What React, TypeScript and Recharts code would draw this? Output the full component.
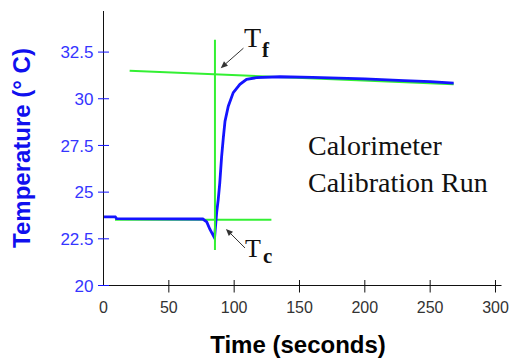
import React from 'react';
import { LineChart, Line, XAxis, YAxis, ReferenceLine } from 'recharts';

// ---- data ----
const runTimes = [0, 9, 10, 40, 76, 79, 81.5, 85, 86.6, 87.8, 89, 90.4, 91.7, 93, 95.5, 99.3, 104.4, 109.5, 117, 135, 160, 200, 230, 250, 268];
const runTemps = [23.68, 23.68, 23.58, 23.57, 23.56, 23.4, 23.0, 22.55, 23.9, 24.6, 25.5, 26.9, 27.9, 28.8, 29.6, 30.33, 30.77, 31.04, 31.13, 31.18, 31.15, 31.06, 30.97, 30.92, 30.84];

const finalFit = [{ t: 20, temp: 31.5 }, { t: 268, temp: 30.78 }];
const initialFit = [{ t: 8.8, temp: 23.52 }, { t: 128.5, temp: 23.52 }];
const mixTime = [{ t: 85.3, temp: 33.16 }, { t: 85.3, temp: 21.9 }];

const arrowTf = [{ x: 107.1, y: 32.71 }, { x: 89.7, y: 31.64 }];
const arrowTc = [{ x: 108.3, y: 22.01 }, { x: 93.7, y: 23.03 }];

const xTicks = [0, 50, 100, 150, 200, 250, 300];
const yTicks = [20, 22.5, 25, 27.5, 30, 32.5];

const data = runTimes.map((t, i) => ({ t, temp: runTemps[i] }));

const BLUE = '#1414ff';
const GREEN = '#33f033';

const YTick = (props: any) => {
  const { x, y, payload } = props;
  const ax = x + 10;
  return (
    <g>
      <line x1={ax - 5.5} x2={ax + 5.5} y1={y} y2={y} stroke={BLUE} strokeWidth={1} />
      <text x={x} y={y} dy="0.36em" textAnchor="end" fill="#3535ff" fontSize={17} fontFamily="Liberation Sans, Arial, sans-serif">
        {String(payload.value)}
      </text>
    </g>
  );
};

const XTick = (props: any) => {
  const { x, y, payload } = props;
  const ay = y - 16;
  return (
    <g>
      {payload.value !== 0 && <line x1={x} x2={x} y1={ay - 5.5} y2={ay + 7} stroke="#111" strokeWidth={1} />}
      <text x={x} y={y} dy="0.71em" textAnchor="middle" fill="#333" fontSize={16} fontFamily="Liberation Sans, Arial, sans-serif">
        {String(payload.value)}
      </text>
    </g>
  );
};

const Arrow = (props: any) => {
  const { x1, y1, x2, y2 } = props;
  const a = Math.atan2(y2 - y1, x2 - x1);
  const L = 7, W = 3;
  const bx = x2 - L * Math.cos(a), by = y2 - L * Math.sin(a);
  const p1 = `${bx + W * Math.sin(a)},${by - W * Math.cos(a)}`;
  const p2 = `${bx - W * Math.sin(a)},${by + W * Math.cos(a)}`;
  return (
    <g>
      <line x1={x1} y1={y1} x2={bx} y2={by} stroke="#333" strokeWidth={1} />
      <polygon points={`${x2},${y2} ${p1} ${p2}`} fill="#333" />
    </g>
  );
};

export default function App() {
  return (
    <div style={{ position: 'relative', width: 513, height: 358 }}>
      <style>{`body{margin:0}`}</style>
      <LineChart width={513} height={358} data={data} margin={{ top: 11, right: 11.5, left: 23.5, bottom: 42.5 }}>
        <XAxis
          type="number"
          dataKey="t"
          domain={[0, 304.6]}
          ticks={xTicks}
          allowDataOverflow
          axisLine={{ stroke: '#111' }}
          tickLine={false}
          tickSize={0}
          tickMargin={16}
          height={30}
          tick={<XTick />}
        />
        <YAxis
          type="number"
          domain={[20, 34.7]}
          ticks={yTicks}
          allowDataOverflow
          axisLine={{ stroke: '#111' }}
          tickLine={false}
          tickSize={0}
          tickMargin={10}
          width={80}
          tick={<YTick />}
        />
        <Line data={finalFit} dataKey="temp" stroke={GREEN} strokeWidth={2} dot={false} activeDot={false} isAnimationActive={false} />
        <Line data={initialFit} dataKey="temp" stroke={GREEN} strokeWidth={2} dot={false} activeDot={false} isAnimationActive={false} />
        <Line dataKey="temp" stroke={BLUE} strokeWidth={2.8} dot={false} activeDot={false} isAnimationActive={false} />
        <Line data={mixTime} dataKey="temp" stroke={GREEN} strokeWidth={2} dot={false} activeDot={false} isAnimationActive={false} />
        <ReferenceLine segment={arrowTf} shape={<Arrow />} ifOverflow="visible" />
        <ReferenceLine segment={arrowTc} shape={<Arrow />} ifOverflow="visible" />
      </LineChart>
      <svg width={513} height={358} style={{ position: 'absolute', left: 0, top: 0, pointerEvents: 'none' }}>
        <text transform="translate(30,148) rotate(-90)" textAnchor="middle" fill="#1010ee" fontSize={24} fontWeight="bold" fontFamily="Liberation Sans, Arial, sans-serif">
          Temperature (° C)
        </text>
        <text x={298} y={353} textAnchor="middle" fill="#000" fontSize={24} fontWeight="bold" fontFamily="Liberation Sans, Arial, sans-serif">
          Time (seconds)
        </text>
        <text x={244} y={47} fill="#111" fontSize={28} fontFamily="Liberation Serif, Times New Roman, serif">T</text>
        <text x={262} y={56.5} fill="#111" fontSize={21} fontWeight="bold" fontFamily="Liberation Serif, Times New Roman, serif">f</text>
        <text x={245} y={256.7} fill="#111" fontSize={26} fontFamily="Liberation Serif, Times New Roman, serif">T</text>
        <text x={263} y={263} fill="#111" fontSize={21} fontWeight="bold" fontFamily="Liberation Serif, Times New Roman, serif">c</text>
        <text x={308} y={155} fill="#111" fontSize={28} fontFamily="Liberation Serif, Times New Roman, serif">Calorimeter</text>
        <text x={308} y={191.5} fill="#111" fontSize={28} fontFamily="Liberation Serif, Times New Roman, serif">Calibration Run</text>
      </svg>
    </div>
  );
}
